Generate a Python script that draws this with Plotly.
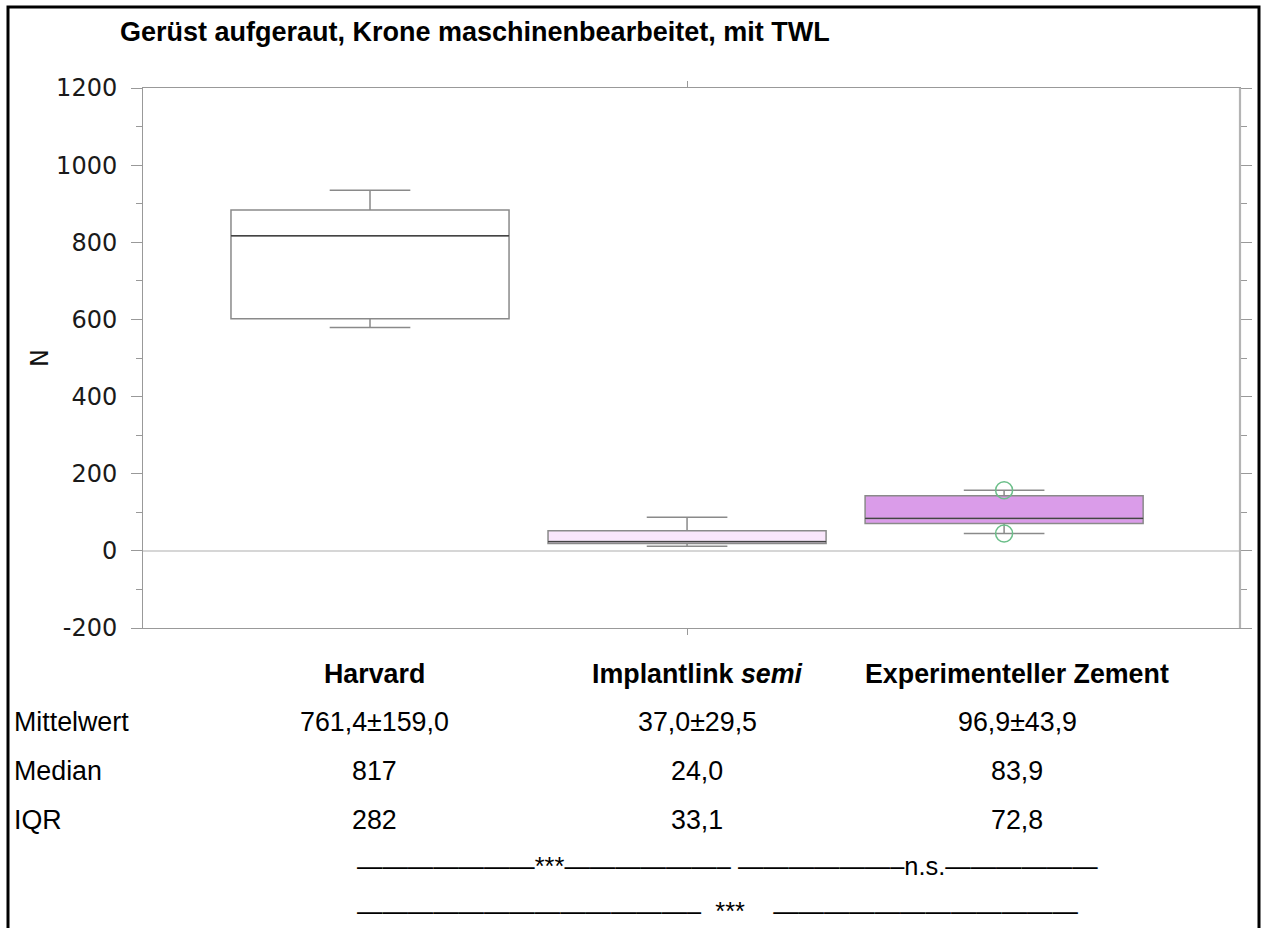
import plotly.graph_objects as go

# ---------------- data ----------------
groups = ["Harvard", "Implantlink semi", "Experimenteller Zement"]
group_pos = [0, 1, 2]
q1 = [602, 19, 71]
median = [817, 24, 84]
q3 = [884, 52, 143]
lowerfence = [579, 12, 45]
upperfence = [935, 87, 157]
fills = ["#ffffff", "#f9e6fb", "#da9ce9"]
marked_pos = [2, 2]
marked_vals = [157, 45]

title_text = "Gerüst aufgeraut, Krone maschinenbearbeitet, mit TWL"
header_labels = ["<b>Harvard</b>", "<b>Implantlink <i>semi</i></b>", "<b>Experimenteller Zement</b>"]
row_names = ["Mittelwert", "Median", "IQR"]
mean_sd = ["761,4±159,0", "37,0±29,5", "96,9±43,9"]
median_txt = ["817", "24,0", "83,9"]
iqr_txt = ["282", "33,1", "72,8"]
sig_row1 = "———————***——————–" + " " + "——————–n.s.——————"
sig_row2 = "—————————————–  ***    ————————————"

y_ticks = [-200, 0, 200, 400, 600, 800, 1000, 1200]
y_ticktext = ["-200", "0", "200", "400", "600", "800", "1000", "1200"]

# ---------------- layout geometry (pixels) ----------------
W, H = 1267, 928
L, R, T, B = 143, 1240, 88, 628
pw, ph = R - L, B - T


def px(x):
    return (x - L) / pw


def py(y):
    return (B - y) / ph


fig = go.Figure()

for i in range(3):
    fig.add_trace(go.Box(
        x=[group_pos[i]], q1=[q1[i]], median=[median[i]], q3=[q3[i]],
        lowerfence=[lowerfence[i]], upperfence=[upperfence[i]],
        width=0.877, whiskerwidth=0.29,
        fillcolor=fills[i], line=dict(color="#8a8a8a", width=1.5),
        boxpoints=False, showlegend=False, hoverinfo="skip",
    ))
    # darker median line overlay
    fig.add_trace(go.Box(
        x=[group_pos[i]], q1=[median[i]], median=[median[i]], q3=[median[i]],
        lowerfence=[median[i]], upperfence=[median[i]],
        width=0.877, whiskerwidth=0,
        fillcolor="rgba(0,0,0,0)", line=dict(color="#444444", width=1.3),
        boxpoints=False, showlegend=False, hoverinfo="skip",
    ))

fig.add_trace(go.Scatter(
    x=marked_pos, y=marked_vals, mode="markers",
    marker=dict(symbol="circle-open", size=17, color="#6cbf8a", line=dict(width=1.5)),
    showlegend=False, hoverinfo="skip",
))

annotations = []
# title
annotations.append(dict(x=px(118), y=py(32), xref="paper", yref="paper", text="<b>" + title_text + "</b>",
                        showarrow=False, xanchor="left", yanchor="middle",
                        font=dict(family="Liberation Sans", size=27, color="#000")))
# y axis title
annotations.append(dict(x=px(40), y=py(358), xref="paper", yref="paper", text="N", textangle=-90,
                        showarrow=False, xanchor="center", yanchor="middle",
                        font=dict(family="DejaVu Sans", size=24, color="#111")))

col_x = [374, 697, 1017]
row_y = [674, 722, 771, 820]
tfont = dict(family="Liberation Sans", size=26.8, color="#000")
sfont = dict(family="Liberation Sans", size=25.4, color="#000")
for j in range(3):
    annotations.append(dict(x=px(col_x[j]), y=py(row_y[0]), xref="paper", yref="paper",
                            text=header_labels[j], showarrow=False, xanchor="center", yanchor="middle", font=tfont))
for r, vals in enumerate([mean_sd, median_txt, iqr_txt]):
    annotations.append(dict(x=px(12), y=py(row_y[r + 1]), xref="paper", yref="paper",
                            text=row_names[r], showarrow=False, xanchor="left", yanchor="middle", font=tfont))
    for j in range(3):
        annotations.append(dict(x=px(col_x[j]), y=py(row_y[r + 1]), xref="paper", yref="paper",
                                text=vals[j], showarrow=False, xanchor="center", yanchor="middle", font=tfont))
annotations.append(dict(x=px(355), y=py(866), xref="paper", yref="paper", text=sig_row1,
                        showarrow=False, xanchor="left", yanchor="middle", font=sfont))
annotations.append(dict(x=px(355), y=py(911), xref="paper", yref="paper", text=sig_row2,
                        showarrow=False, xanchor="left", yanchor="middle", font=sfont))

shapes = [
    dict(type="rect", xref="paper", yref="paper",
         x0=px(8), x1=px(1259), y0=py(960), y1=py(7),
         line=dict(color="#000", width=3), fillcolor="rgba(0,0,0,0)", layer="above"),
    # heavier light-grey right axis line
    dict(type="line", xref="paper", yref="paper", x0=1, x1=1, y0=0, y1=1,
         line=dict(color="#b4b4b4", width=2.2), layer="above"),
]

fig.update_layout(
    width=W, height=H,
    margin=dict(l=L, r=W - R, t=T, b=H - B, autoexpand=False),
    paper_bgcolor="white", plot_bgcolor="white",
    boxmode="overlay",
    annotations=annotations, shapes=shapes,
    xaxis=dict(range=[-0.716, 2.744], tickvals=[1], ticks="outside", ticklen=6, tickcolor="#999",
               showticklabels=False, showline=True, linecolor="#999", linewidth=1, mirror="ticks",
               zeroline=False, showgrid=False, fixedrange=True),
    yaxis=dict(range=[-200, 1200], tickvals=y_ticks, ticktext=y_ticktext, ticks="outside", ticklen=11,
               tickcolor="#999",
               showline=True, linecolor="#999", linewidth=1, mirror="ticks",
               minor=dict(dtick=100, ticks="outside", ticklen=6, tickcolor="#999"),
               zeroline=True, zerolinecolor="#d6d6d6", zerolinewidth=1.5, showgrid=False,
               tickfont=dict(family="DejaVu Sans", size=24, color="#1a1a1a"), ticklabelstandoff=9,
               fixedrange=True),
)

fig.write_html("out.html")
